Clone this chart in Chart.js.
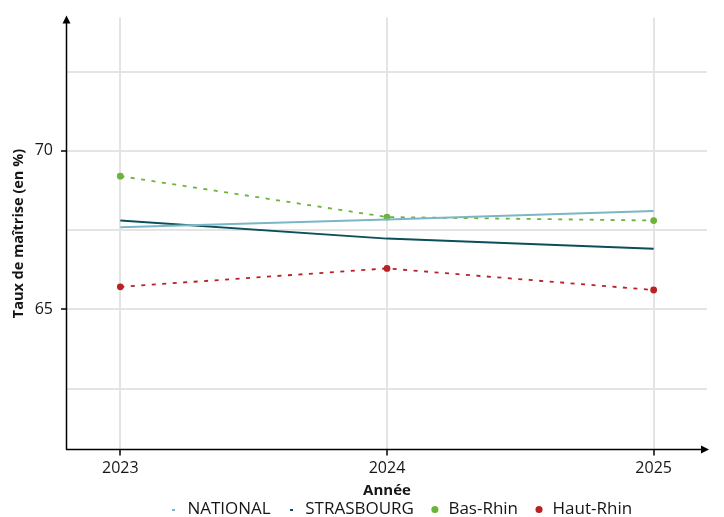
<!DOCTYPE html>
<html lang="fr">
<head>
    <meta charset="UTF-8">
    <title>Taux de maîtrise</title>
    <style>
        html, body { margin: 0; padding: 0; background: #fff; }
        #wrap { width: 724px; height: 517px; }
    </style>
    <script src="https://cdn.jsdelivr.net/npm/chart.js@4.4.1/dist/chart.umd.min.js"></script>
</head>
<body>
    <div id="wrap"><canvas id="graphique" width="724" height="517"></canvas></div>

    <script>
        // Données
        const annees = [2023, 2024, 2025];
        const national = [67.59, 67.83, 68.10];
        const strasbourg = [67.80, 67.23, 66.91];
        const basRhin = [69.20, 67.91, 67.80];
        const hautRhin = [65.71, 66.29, 65.61];
        const graduationsY = [62.5, 65, 67.5, 70, 72.5];

        const police = "'Open Sans', sans-serif";

        const points = valeurs => annees.map((a, i) => ({ x: a, y: valeurs[i] }));

        // petit trait pour la légende des séries sans points
        function petitTrait(couleur) {
            const c = document.createElement('canvas');
            c.width = 3;
            c.height = 2;
            const g = c.getContext('2d');
            g.fillStyle = couleur;
            g.fillRect(0, 0, 3, 2);
            return c;
        }

        // axes noirs avec flèches
        const flechesAxes = {
            id: 'flechesAxes',
            afterDraw(chart) {
                const { ctx, chartArea: a } = chart;
                const x0 = a.left - 0.5;
                const y0 = a.bottom;
                ctx.save();
                ctx.strokeStyle = '#000';
                ctx.fillStyle = '#000';
                ctx.lineWidth = 1.5;
                ctx.beginPath();
                ctx.moveTo(x0, y0);
                ctx.lineTo(x0, a.top + 4);
                ctx.moveTo(x0 - 0.5, y0);
                ctx.lineTo(a.right - 4, y0);
                ctx.stroke();
                ctx.beginPath();
                ctx.moveTo(x0, a.top - 2);
                ctx.lineTo(x0 - 4, a.top + 6);
                ctx.lineTo(x0 + 4, a.top + 6);
                ctx.closePath();
                ctx.fill();
                ctx.beginPath();
                ctx.moveTo(a.right + 2, y0);
                ctx.lineTo(a.right - 6, y0 - 4);
                ctx.lineTo(a.right - 6, y0 + 4);
                ctx.closePath();
                ctx.fill();
                ctx.restore();
            }
        };

        // décale la légende pour la centrer comme sur l'original
        const decalageLegende = {
            id: 'decalageLegende',
            afterLayout(chart) {
                if (chart.legend) {
                    chart.legend.left += 47;
                    chart.legend.right += 47;
                }
            }
        };

        new Chart(document.getElementById('graphique'), {
            type: 'line',
            data: {
                datasets: [
                    {
                        label: 'NATIONAL',
                        data: points(national),
                        borderColor: '#7ab6c6',
                        backgroundColor: '#7ab6c6',
                        borderWidth: 2,
                        pointRadius: 0
                    },
                    {
                        label: 'STRASBOURG',
                        data: points(strasbourg),
                        borderColor: '#0a4f59',
                        backgroundColor: '#0a4f59',
                        borderWidth: 2,
                        pointRadius: 0
                    },
                    {
                        label: 'Bas-Rhin',
                        data: points(basRhin),
                        borderColor: '#6cb33a',
                        backgroundColor: '#6cb33a',
                        borderWidth: 1.8,
                        borderDash: [4, 6.5],
                        pointRadius: 3.4,
                        pointBorderWidth: 0,
                        pointBackgroundColor: '#6cb33a'
                    },
                    {
                        label: 'Haut-Rhin',
                        data: points(hautRhin),
                        borderColor: '#b82125',
                        backgroundColor: '#b82125',
                        borderWidth: 1.8,
                        borderDash: [4, 6.5],
                        pointRadius: 3.4,
                        pointBorderWidth: 0,
                        pointBackgroundColor: '#b82125'
                    }
                ]
            },
            options: {
                responsive: false,
                animation: false,
                layout: { padding: { top: 14, right: 17, left: 0, bottom: -11 } },
                scales: {
                    x: {
                        type: 'linear',
                        min: 2022.8,
                        max: 2025.2,
                        afterBuildTicks: scale => { scale.ticks = annees.map(v => ({ value: v })); },
                        afterFit: scale => { scale.height = 35.5; },
                        border: { display: false },
                        grid: {
                            color: '#e4e4e4',
                            lineWidth: 2,
                            tickLength: 6,
                            tickColor: '#000',
                            tickWidth: 1.5
                        },
                        ticks: {
                            padding: 3,
                            color: '#161616',
                            font: { family: police, size: 16 },
                            callback: v => String(v)
                        },
                        title: {
                            display: true,
                            text: 'Année',
                            color: '#161616',
                            font: { family: police, size: 15, weight: 'bold' },
                            padding: { top: 0, bottom: -15 }
                        }
                    },
                    y: {
                        min: 60.58,
                        max: 74.2,
                        afterBuildTicks: scale => { scale.ticks = graduationsY.map(v => ({ value: v })); },
                        afterFit: scale => { scale.width = 67; },
                        border: { display: false },
                        grid: {
                            color: '#e4e4e4',
                            lineWidth: 2,
                            tickLength: 6,
                            tickWidth: 1.5,
                            tickColor: c => (c.tick && c.tick.value % 5 === 0 ? '#000' : 'rgba(0,0,0,0)')
                        },
                        ticks: {
                            padding: 8,
                            color: '#161616',
                            font: { family: police, size: 16 },
                            callback: v => (v % 5 === 0 ? String(v) : '')
                        },
                        title: {
                            display: true,
                            text: 'Taux de maîtrise (en %)',
                            color: '#161616',
                            font: { family: police, size: 14.5, weight: 'bold' },
                            padding: { top: 10, bottom: 0 }
                        }
                    }
                },
                plugins: {
                    tooltip: { enabled: false },
                    legend: {
                        position: 'bottom',
                        labels: {
                            usePointStyle: true,
                            boxWidth: 10,
                            boxHeight: 5,
                            padding: 16,
                            color: '#161616',
                            font: { family: police, size: 17 },
                            generateLabels: chart => {
                                const items = Chart.defaults.plugins.legend.labels.generateLabels(chart);
                                items.forEach(item => {
                                    const ds = chart.data.datasets[item.datasetIndex];
                                    item.lineWidth = 0;
                                    item.lineDash = [];
                                    item.pointStyle = ds.pointRadius ? 'circle' : petitTrait(ds.borderColor);
                                });
                                return items;
                            }
                        }
                    }
                }
            },
            plugins: [flechesAxes, decalageLegende]
        });
    </script>
</body>
</html>
